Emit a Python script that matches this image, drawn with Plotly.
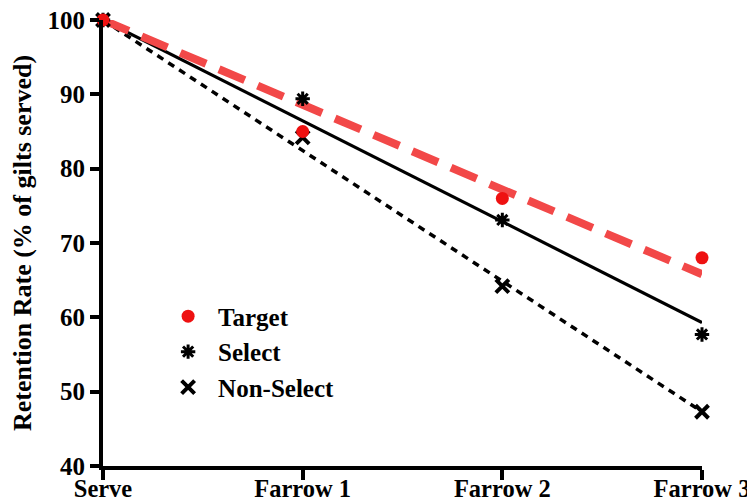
import plotly.graph_objects as go

categories = ["Serve", "Farrow 1", "Farrow 2", "Farrow 3"]
target = [100, 85, 76, 68]
select = [100, 89.4, 73.1, 57.7]
non_select = [100, 84.2, 64.2, 47.3]

trend_x = ["Serve", "Farrow 3"]
trend_target = [100, 65.8]
trend_select = [100, 59.3]
trend_non_select = [100, 47.3]

y_ticks = [40, 50, 60, 70, 80, 90, 100]

FONT = "Liberation Serif"

fig = go.Figure()

# trend lines
fig.add_trace(go.Scatter(x=trend_x, y=trend_non_select, mode="lines",
                         line=dict(color="black", width=3.5, dash="7px,6px"),
                         showlegend=False, hoverinfo="skip"))
fig.add_trace(go.Scatter(x=trend_x, y=trend_select, mode="lines",
                         line=dict(color="black", width=3.2),
                         showlegend=False, hoverinfo="skip"))
fig.add_trace(go.Scatter(x=trend_x, y=trend_target, mode="lines",
                         line=dict(color="#f24848", width=8, dash="28px,14px"),
                         showlegend=False, hoverinfo="skip"))

# markers
fig.add_trace(go.Scatter(x=categories, y=non_select, mode="markers", name="Non-Select",
                         legendrank=3,
                         marker=dict(symbol="x-thin-open", size=13, color="black",
                                     line=dict(width=4, color="black")),
                         cliponaxis=False))
fig.add_trace(go.Scatter(x=categories, y=select, mode="markers", name="Select",
                         legendrank=2,
                         marker=dict(symbol="asterisk-open", size=12, color="black",
                                     line=dict(width=3, color="black")),
                         cliponaxis=False))
fig.add_trace(go.Scatter(x=categories, y=target, mode="markers", name="Target",
                         legendrank=1,
                         marker=dict(symbol="circle", size=13, color="#ee1111",
                                     line=dict(width=0)),
                         cliponaxis=False))

fig.update_layout(
    width=747, height=496,
    margin=dict(l=95, r=53, t=12, b=38, autoexpand=False),
    paper_bgcolor="white", plot_bgcolor="white",
    font=dict(family=FONT, size=24, color="black"),
    showlegend=True,
    legend=dict(x=0.092, y=0.387, xanchor="left", yanchor="top",
                bgcolor="rgba(0,0,0,0)", borderwidth=0,
                itemwidth=50, font=dict(family=FONT, size=25, color="black",
                                        weight="bold"),
                traceorder="normal"),
    xaxis=dict(type="category", range=[0, 3], categoryorder="array",
               categoryarray=categories,
               showline=True, linecolor="black", linewidth=4,
               ticks="outside", ticklen=10, tickwidth=3.5, tickcolor="black",
               showgrid=False, zeroline=False,
               ticklabeloverflow="allow", ticklabelstandoff=-12,
               tickfont=dict(family=FONT, size=24.5, color="black", weight="bold")),
    yaxis=dict(range=[40, 100], tickvals=y_ticks,
               showline=True, linecolor="black", linewidth=4,
               ticks="outside", ticklen=9, tickwidth=3.5, tickcolor="black",
               showgrid=False, zeroline=False,
               ticklabeloverflow="allow",
               tickfont=dict(family=FONT, size=25, color="black", weight="bold"),
               title=dict(text="Retention Rate (% of gilts served)", standoff=20,
                          font=dict(family=FONT, size=26, color="black", weight="bold"))),
)

fig.write_html("out.html")
